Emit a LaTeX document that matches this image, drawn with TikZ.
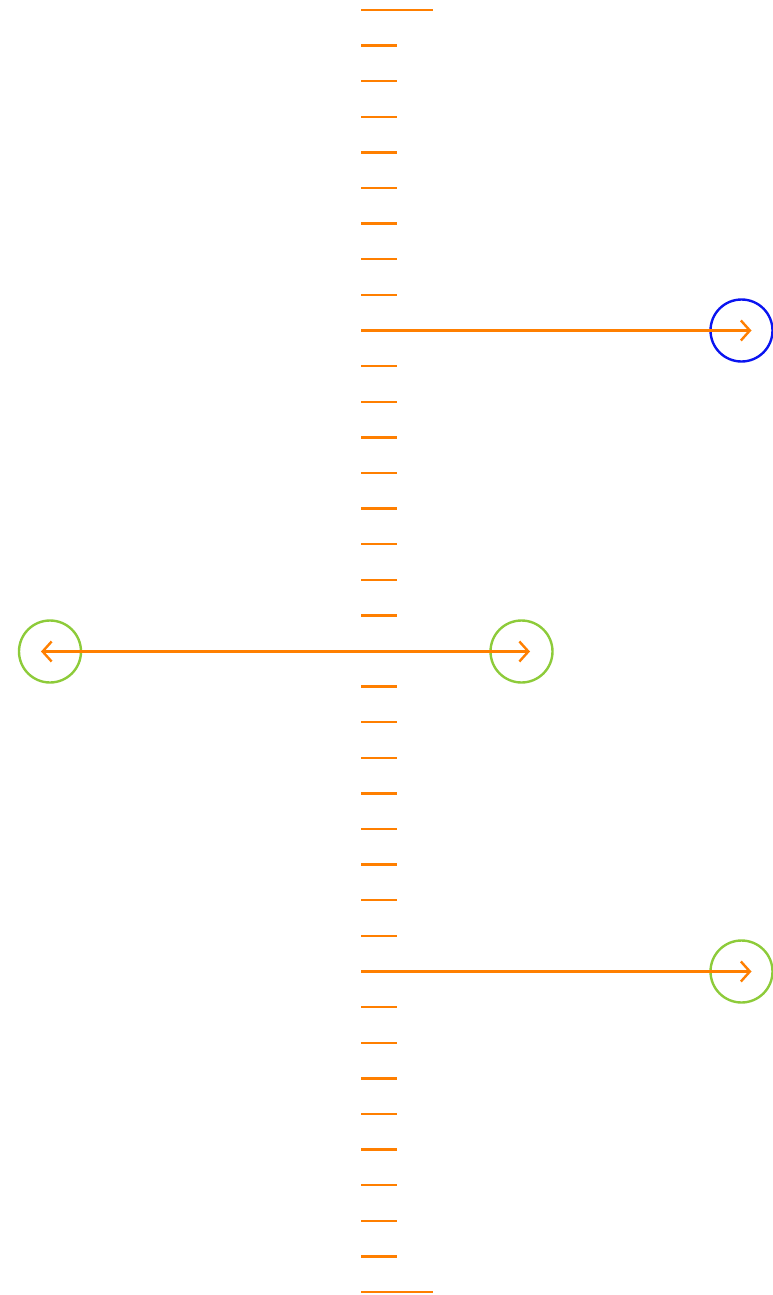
\documentclass[tikz,border=0pt]{standalone}
\usetikzlibrary{arrows.meta}
\definecolor{tickorange}{HTML}{FF7F00}
\definecolor{ringblue}{HTML}{0A14F0}
\definecolor{ringgreen}{HTML}{8DCB3A}
\tikzset{
  tickline/.style={draw=tickorange, line width=2.4pt},
  barb/.style={Straight Barb[length=9pt,width=20pt,line width=2.4pt]},
  axarrow/.style={draw=tickorange, line width=2.4pt, -{Straight Barb[length=9pt,width=20pt,line width=2.4pt]}},
  ring/.style={circle, draw, line width=2.4pt, minimum size=62pt, inner sep=0pt},
}
\begin{document}
\begin{tikzpicture}[x=1pt,y=-1pt]
\useasboundingbox (0,0) rectangle (773,1295);
% ticks
\foreach \i in {0,...,36}{
  \pgfmathsetmacro{\yy}{10+\i*35.61}
  \ifnum\i=0
    \draw[tickline] (361,\yy) -- (433,\yy);
  \else\ifnum\i=36
    \draw[tickline] (361,\yy) -- (433,\yy);
  \else
    \draw[tickline] (361,\yy) -- (397,\yy);
  \fi\fi
}
% circles
\node[ring, draw=ringblue] (b1) at (741.5,330.5) {};
\node[ring, draw=ringgreen] (gl) at (50,651.5) {};
\node[ring, draw=ringgreen] (gm) at (521.5,651.5) {};
\node[ring, draw=ringgreen] (g3) at (741.5,971.5) {};
% axis anchors
\coordinate (a1) at (361,330.5);
\coordinate (a3) at (361,971.5);
% arrows
\draw[axarrow] (a1) -- ([xshift=10pt]b1.center);
\draw[axarrow] (a3) -- ([xshift=10pt]g3.center);
\draw[draw=tickorange, line width=2.4pt, {Straight Barb[length=9pt,width=20pt,line width=2.4pt]}-{Straight Barb[length=9pt,width=20pt,line width=2.4pt]}] ([xshift=-9pt]gl.center) -- ([xshift=8.5pt]gm.center);
\end{tikzpicture}
\end{document}
